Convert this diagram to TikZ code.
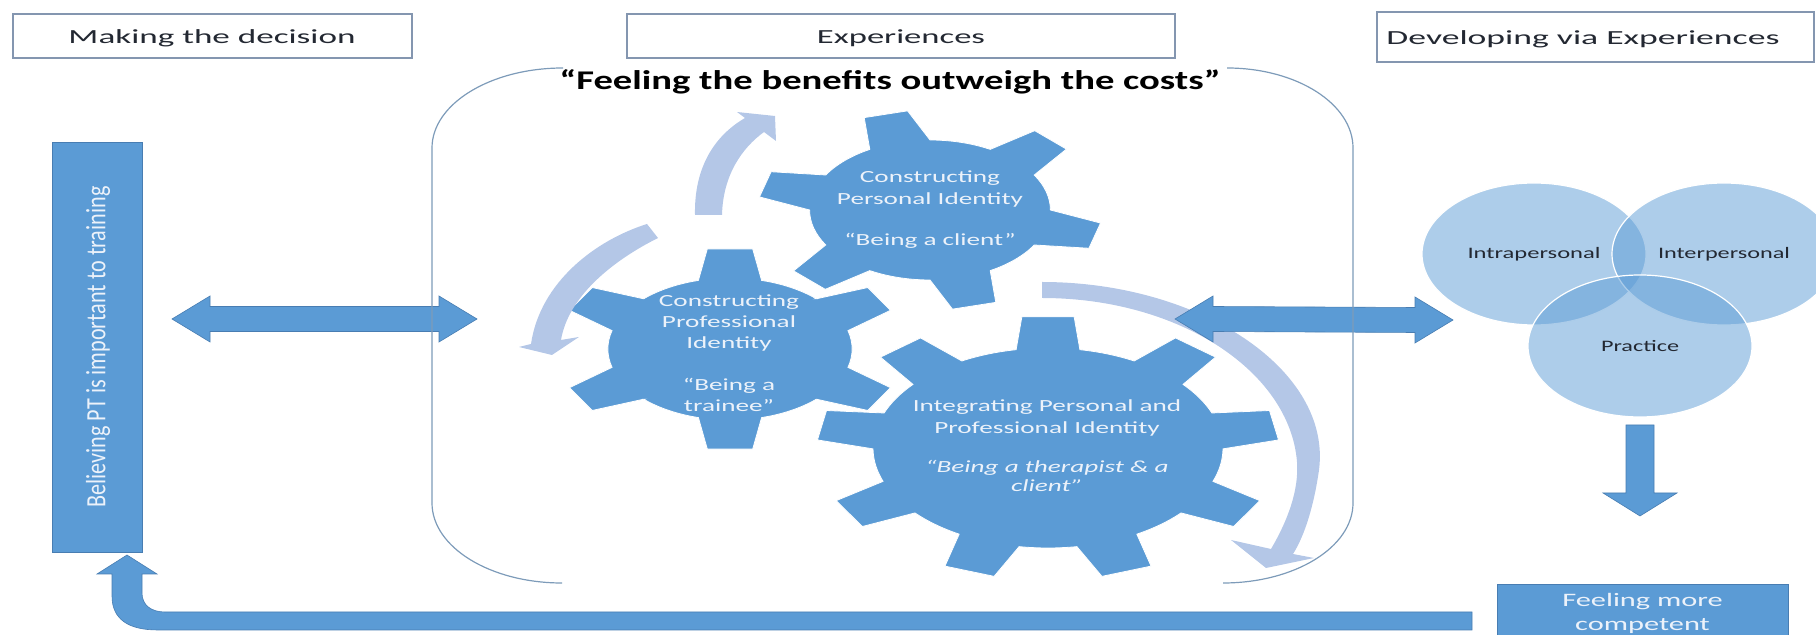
\documentclass[tikz,border=0pt]{standalone}
\usepackage{fontspec}
\setmainfont{Carlito}
\usepackage{graphicx}
\usetikzlibrary{calc,shapes.geometric}
\newlength\pxu \setlength\pxu{0.5pt}
\newcommand\fitw[2]{\resizebox{#1\pxu}{\height}{#2}}
\definecolor{blu}{RGB}{91,155,213}
\definecolor{bluedge}{RGB}{72,125,178}
\definecolor{lightarc}{RGB}{180,199,231}
\definecolor{contc}{RGB}{125,155,185}
\definecolor{hdrline}{RGB}{132,150,176}
\definecolor{gtxt}{RGB}{236,242,250}
\definecolor{darktxt}{RGB}{35,40,50}
% horizontal double block arrow between two named coordinates
\newcommand\hdbl[2]{%
  \fill[blockarrow] (#1) -- ++(38,-23) -- ++(0,10.5) -- ($(#2)+(-38,-12.5)$) -- ++(0,-10.5) -- (#2)
    -- ++(-38,23) -- ++(0,-10.5) -- ($(#1)+(38,12.5)$) -- ++(0,10.5) -- cycle;}
% gear: cx cy xscale rootr outerr teeth offset tiphalf basehalf
\newcommand\gear[9]{%
  \begin{scope}[shift={(#1,#2)},xscale=#3]
    \pgfmathsetmacro\gstep{360/#6}%
    \pgfmathtruncatemacro\glast{#6-1}%
    \filldraw[gearstyle] ({#7-#9}:#4) \foreach \k in {0,...,\glast}{
      -- ({#7+\gstep*\k-#9}:#4) -- ({#7+\gstep*\k-#8}:#5) -- ({#7+\gstep*\k+#8}:#5) -- ({#7+\gstep*\k+#9}:#4)
      arc[start angle={#7+\gstep*\k+#9}, end angle={#7+\gstep*(\k+1)-#9}, radius=#4]} -- cycle;
  \end{scope}}
\begin{document}
\begin{tikzpicture}[x=0.5pt,y=-0.5pt,
  hdrbox/.style={draw=hdrline, line width=0.7pt, fill=white, inner sep=0},
  hdrtext/.style={font=\fontsize{10}{12}\selectfont, text=darktxt, inner sep=0},
  titletext/.style={font=\fontsize{13.5}{16}\selectfont\bfseries, text=black, inner sep=0},
  bluebox/.style={fill=blu, draw=bluedge, line width=0.4pt, inner sep=0},
  blockarrow/.style={fill=blu, draw=bluedge, line width=0.3pt},
  gearstyle/.style={fill=blu, draw=white, line width=0.4pt},
  arcarrow/.style={fill=lightarc},
  cont/.style={draw=contc, line width=0.6pt},
  venn/.style={ellipse, fill=blu, fill opacity=0.5, text opacity=1, draw=white, line width=0.6pt,
    minimum width=112pt, minimum height=71pt, inner sep=0, text=darktxt, font=\fontsize{8}{10}\selectfont},
  gtext/.style={text=gtxt, inner sep=0},
]
\useasboundingbox (0,0) rectangle (1816,635);
\clip (0,0) rectangle (1816,635);

% header boxes
\node[hdrbox, minimum width=199.5pt, minimum height=22pt] (h1) at (212.5,36) {};
\node[hdrbox, minimum width=274pt, minimum height=22pt] (h2) at (901,36) {};
\node[hdrbox, minimum width=218.5pt, minimum height=25pt] (h3) at (1595.5,37) {};
\node[hdrtext, anchor=base] (h1t) at (212,44) {\fitw{287}{Making the decision}};
\node[hdrtext, anchor=base] (h2t) at (901,44) {\fitw{168}{Experiences}};
\node[hdrtext, anchor=base] (h3t) at (1583,45) {\fitw{393}{Developing via Experiences}};

% title
\node[titletext, anchor=base] (title) at (890,90) {\fitw{661}{“Feeling the benefits outweigh the costs”}};

% left box
\node[bluebox, minimum width=45pt, minimum height=205pt] (lbox) at (97,347) {};
\node[gtext, rotate=90, font=\fontsize{9}{10}\selectfont] (lboxt) at (98,347)
  {\fitw{321}{\scalebox{1}[1.55]{Believing PT is important to training}}};

% gears
\gear{930}{210}{1.72}{70}{100}{6}{15}{7.5}{15}
\gear{730}{349}{1.72}{71}{101}{6}{30}{7.5}{15}
\gear{1048}{448}{1.75}{100}{132}{9}{-90}{6.5}{10.5}

\node[gtext, font=\fontsize{8.5}{11}\selectfont] (g1t) at (930,210)
  {\scalebox{1.6}[1]{\begin{tabular}{@{}c@{}}Constructing\\ Personal Identity\\[9.5pt] “Being a client”\end{tabular}}};
\node[gtext, font=\fontsize{8.5}{10.5}\selectfont] (g2t) at (729,355)
  {\scalebox{1.6}[1]{\begin{tabular}{@{}c@{}}Constructing\\ Professional\\ Identity\\[10.5pt] “Being a\\ trainee”\end{tabular}}};
\node[gtext, font=\fontsize{8.5}{11}\selectfont] (g3t) at (1047,447)
  {\scalebox{1.6}[1]{\begin{tabular}{@{}c@{}}Integrating Personal and\\ Professional Identity\\[8.5pt] \itshape “Being a therapist \& a\\[-1.5pt] \itshape client”\end{tabular}}};

% light curved arrows
\fill[arcarrow] (695,215) .. controls (694,168) and (714,136) .. (745,118) -- (737,112) -- (775,116)
  -- (776,141) -- (764,132) .. controls (742,148) and (723,175) .. (722,215) -- cycle;
\fill[arcarrow] (647,224) .. controls (596,240) and (540,282) .. (531,344) -- (519,347) -- (552,355)
  -- (579,337) -- (561,340) .. controls (568,298) and (610,262) .. (658,238) -- cycle;
\fill[arcarrow] (1042,282) .. controls (1200,282) and (1332,370) .. (1319,470)
  .. controls (1314,505) and (1305,535) .. (1293,554) -- (1314,558) -- (1266,568) -- (1231,540)
  -- (1271,549) .. controls (1288,520) and (1299,490) .. (1297,462)
  .. controls (1290,372) and (1180,298) .. (1042,298) -- cycle;

% double arrows
\coordinate (la1) at (172,319);
\coordinate (la2) at (477,319);
\hdbl{la1}{la2}
\coordinate (ra1) at (1175,319);
\coordinate (ra2) at (1453,320);
\hdbl{ra1}{ra2}

% container
\draw[cont] (563,68) arc[start angle=270, end angle=180, x radius=131, y radius=80]
  -- (432,503) arc[start angle=180, end angle=90, x radius=130, y radius=80];
\draw[cont] (1227,68) arc[start angle=270, end angle=360, x radius=126, y radius=80]
  -- (1353,503) arc[start angle=0, end angle=90, x radius=130, y radius=80];

% venn
\node[venn] (vintra) at (1534,254) {\fitw{133}{Intrapersonal}};
\node[venn] (vinter) at (1724,254) {\fitw{132}{Interpersonal}};
\node[venn] (vprac) at (1640,346) {\fitw{78}{Practice}};

% down arrow
\coordinate (da1) at (1640,425);
\coordinate (da2) at (1640,516);
\fill[blockarrow] ($(da1)+(-14,0)$) -- ($(da1)+(14,0)$) -- ($(da2)+(14,-23)$) -- ($(da2)+(37,-23)$)
  -- (da2) -- ($(da2)+(-37,-23)$) -- ($(da2)+(-14,-23)$) -- cycle;

% competent box
\node[bluebox, minimum width=145.5pt, minimum height=30pt, text=gtxt, font=\fontsize{9.5}{12}\selectfont] (comp) at (1642.5,614)
  {\scalebox{1.6}[1]{\begin{tabular}{@{}c@{}}Feeling more\\ competent\end{tabular}}};

% return arrow
\coordinate (ua1) at (1472,621);
\coordinate (ua2) at (127,555);
\fill[blockarrow] ($(ua1)+(0,-9)$) -- (165,612) .. controls (151,612) and (142,605) .. (142,593)
  -- ($(ua2)+(15,19)$) -- ($(ua2)+(30,19)$) -- (ua2) -- ($(ua2)+(-30,19)$) -- ($(ua2)+(-15,19)$)
  -- (112,596) .. controls (112,619) and (128,630) .. (158,630) -- ($(ua1)+(0,9)$) -- cycle;
\end{tikzpicture}
\end{document}
